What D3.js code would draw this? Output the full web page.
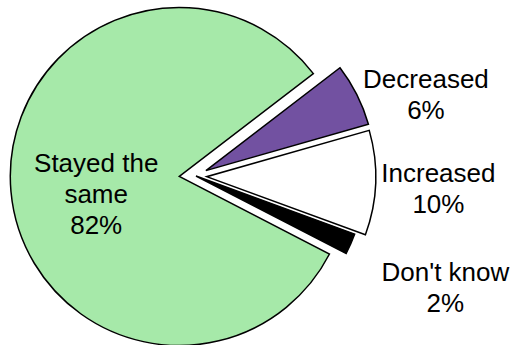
<!DOCTYPE html>
<html>
<head>
<meta charset="utf-8">
<script src="https://cdn.jsdelivr.net/npm/d3@7"></script>
<style>
  body { margin: 0; background: #fff; }
  text { font-family: "Liberation Sans", Arial, sans-serif; font-size: 26px; fill: #000; }
</style>
</head>
<body>
<script>
// data, in drawing order (clockwise from the upper right)
const categories = ["Decreased", "Increased", "Don't know", "Stayed the same"];
const values = [6, 10, 2, 82];
const labelLines = [["Decreased", "6%"], ["Increased", "10%"], ["Don't know", "2%"], ["Stayed the", "same", "82%"]];

const width = 510;
const height = 345;
const cx = 179.3, cy = 176.5;
const radius = 169;
const startDeg = 52.5;

const colors = {
  "Decreased": "#7251a1",
  "Increased": "#ffffff",
  "Don't know": "#000000",
  "Stayed the same": "#a6e9a9"
};

// how far each slice is pulled out of the pie
const explode = {
  "Decreased": [26.6, -5.9],
  "Increased": [27.4, 0.2],
  "Don't know": [16.7, -0.5],
  "Stayed the same": [0, 0]
};

// label placement: distance from slice tip and angle shift (degrees)
const labelPlace = {
  "Decreased": { r: 233, da: 7.5 },
  "Increased": { r: 232, da: 0.8 },
  "Don't know": { r: 273, da: 0.3 },
  "Stayed the same": { r: 85, da: -7 }
};

const lineGap = 31;

const data = categories.map((c, i) => ({ name: c, value: values[i], lines: labelLines[i] }));

const rad = (d) => d * Math.PI / 180;

const pie = d3.pie()
  .value((d) => d.value)
  .sort(null)
  .startAngle(rad(startDeg))
  .endAngle(rad(startDeg) + 2 * Math.PI);

const arc = d3.arc().innerRadius(0).outerRadius(radius);

const svg = d3.select("body")
  .append("svg")
  .attr("width", width)
  .attr("height", height);

const chartGroup = svg.append("g")
  .attr("transform", "translate(" + cx + "," + cy + ")");

const arcs = pie(data);

chartGroup.selectAll("path.slice")
  .data(arcs)
  .join("path")
  .attr("class", "slice")
  .attr("transform", (d) => "translate(" + explode[d.data.name].join(",") + ")")
  .attr("d", arc)
  .attr("fill", (d) => colors[d.data.name])
  .attr("stroke", "#000")
  .attr("stroke-width", 1.5)
  .attr("stroke-linejoin", "miter");

// labels
chartGroup.selectAll("text.label")
  .data(arcs)
  .join("text")
  .attr("class", "label")
  .attr("text-anchor", "middle")
  .each(function (d) {
    const p = labelPlace[d.data.name];
    const a = (d.startAngle + d.endAngle) / 2 + rad(p.da);
    const off = explode[d.data.name];
    const x = off[0] + Math.sin(a) * p.r;
    const y = off[1] - Math.cos(a) * p.r;
    const n = d.data.lines.length;
    const y0 = y - (n - 1) / 2 * lineGap + 0.35 * 26;
    d3.select(this).selectAll("tspan")
      .data(d.data.lines)
      .join("tspan")
      .attr("x", x)
      .attr("y", (t, i) => y0 + i * lineGap)
      .text((t) => t);
  });
</script>
</body>
</html>
